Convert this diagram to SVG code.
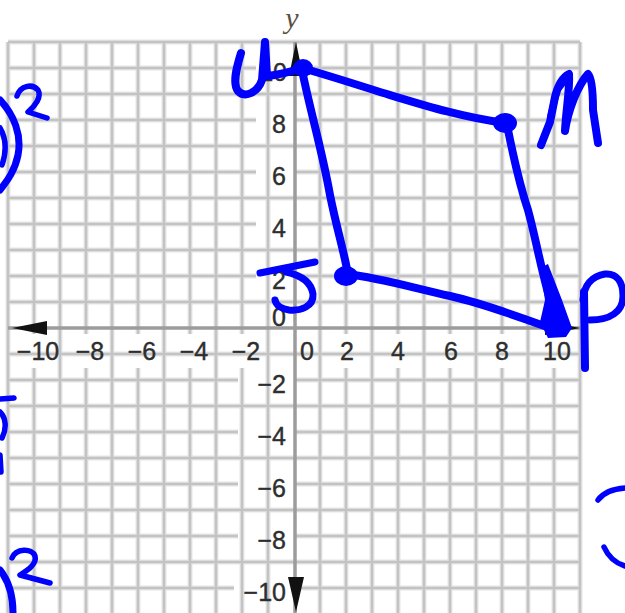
<svg xmlns="http://www.w3.org/2000/svg" width="625" height="613" viewBox="0 0 625 613">
<style>
.halo{fill:none;stroke:#e6e6e6;stroke-width:5}
.grid{fill:none;stroke:#c3c3c3;stroke-width:2.5}
.axis{fill:none;stroke:#9c9c9c;stroke-width:3.5}
.arrow{fill:#111}
.lbl{font-family:"Liberation Sans",Arial,sans-serif;font-size:25px;fill:#2e2e2e;stroke:#2e2e2e;stroke-width:0.4}
.ink{fill:none;stroke:#0000ff;stroke-linecap:round;stroke-linejoin:round}
.edge{stroke-width:8}
.pen{stroke-width:7}
.thin{stroke-width:5.5}
.blob{fill:#0000ff}
</style>
<rect width="625" height="613" fill="#fff"/>
<g id="grid">
<path class="halo" d="M8,42V613M34,42V334M34,368V613M60,42V613M86,42V334M86,368V613M112,42V613M138,42V334M138,368V613M164,42V613M190,42V334M190,368V613M216,42V613M242,42V334M242,368V613M268,42V613M320,42V613M346,42V334M346,368V613M372,42V613M398,42V334M398,368V613M424,42V613M450,42V334M450,368V613M476,42V613M502,42V334M502,368V613M528,42V613M554,42V334M554,368V613M580,42V613
M8,42H580M8,68H256M294,68H580M8,94H580M8,120H256M294,120H580M8,146H580M8,172H256M294,172H580M8,198H580M8,224H256M294,224H580M8,250H580M8,276H256M294,276H580M8,302H580M8,354H580M8,380H238M294,380H580M8,406H580M8,432H238M294,432H580M8,458H580M8,484H238M294,484H580M8,510H580M8,536H238M294,536H580M8,562H580M8,588H234M294,588H580"/>
<path class="grid" d="M8,42V613M34,42V334M34,368V613M60,42V613M86,42V334M86,368V613M112,42V613M138,42V334M138,368V613M164,42V613M190,42V334M190,368V613M216,42V613M242,42V334M242,368V613M268,42V613M320,42V613M346,42V334M346,368V613M372,42V613M398,42V334M398,368V613M424,42V613M450,42V334M450,368V613M476,42V613M502,42V334M502,368V613M528,42V613M554,42V334M554,368V613M580,42V613
M8,42H580M8,68H256M294,68H580M8,94H580M8,120H256M294,120H580M8,146H580M8,172H256M294,172H580M8,198H580M8,224H256M294,224H580M8,250H580M8,276H256M294,276H580M8,302H580M8,354H580M8,380H238M294,380H580M8,406H580M8,432H238M294,432H580M8,458H580M8,484H238M294,484H580M8,510H580M8,536H238M294,536H580M8,562H580M8,588H234M294,588H580"/>
</g>
<g id="axes">
<path class="axis" d="M8,328H580M295,42V613"/>
<polygon class="arrow" points="12,328 47,321 47,335"/>
<polygon class="arrow" points="580,328 545,321 545,335"/>
<polygon class="arrow" points="296,42 289,76 303,76"/>
<polygon class="arrow" points="296,612 288,577 304,577"/>
<text x="292" y="28" text-anchor="middle" style="font-family:'Liberation Serif','Times New Roman',serif;font-style:italic;font-size:30px;fill:#5a5040">y</text>
<g class="lbl" text-anchor="middle">
<text x="38" y="360">−10</text><text x="90" y="360">−8</text><text x="142" y="360">−6</text><text x="194" y="360">−4</text><text x="246" y="360">−2</text><text x="307" y="360">0</text><text x="347" y="360">2</text><text x="398" y="360">4</text><text x="451" y="360">6</text><text x="502" y="360">8</text><text x="557" y="360">10</text>
</g>
<g class="lbl" text-anchor="end">
<text x="287" y="81">10</text><text x="286" y="133">8</text><text x="286" y="185">6</text><text x="286" y="237">4</text><text x="286" y="289">2</text><text x="286" y="326">0</text>
<text x="286" y="393">−2</text><text x="286" y="445">−4</text><text x="286" y="497">−6</text><text x="286" y="549">−8</text><text x="286" y="601">−10</text>
</g>
</g>
<g id="connectors">
<path class="ink edge" d="M302,68C330,76 355,84 380,92C420,104 460,117 505,123"/>
<path class="ink edge" d="M507,125C512,150 518,180 528,210C535,235 540,265 550,300L556,328"/>
<path class="ink edge" d="M347,274C380,278 410,287 450,296C490,305 520,318 556,330"/>
<path class="ink edge" d="M302,70C310,110 322,150 330,195C337,230 345,255 348,275"/>
</g>
<g id="U">
<ellipse class="blob" cx="303" cy="68" rx="10" ry="9"/>
<path class="ink edge" d="M241,53C237,66 232,83 238,91C245,99 258,92 262,80L265,42L267,76C278,75 290,72 302,68"/>
</g>
<g id="M">
<ellipse class="blob" cx="505" cy="123" rx="12" ry="10"/>
<path class="ink edge" d="M541,145L550,122L555,97C558,85 563,77 569,74C570,90 566,110 565,131C568,110 578,85 588,74C592,78 593,95 593,110L598,143"/>
<path class="ink" stroke-width="7" d="M551,115L557,90L565,80"/>
</g>
<g id="J">
<ellipse class="blob" cx="346" cy="276" rx="12" ry="10"/>
<path class="ink pen" d="M260,273L315,262M286,272C300,275 311,281 313,294C314,307 300,311 289,310C281,309 276,305 275,300"/>
</g>
<g id="P">
<path class="blob" d="M540,268L548,264L562,300L572,328L566,337L548,338L540,322L545,300Z"/>
<path class="ink edge" d="M584,292L585,368"/>
<path class="ink pen" d="M583,300C584,285 592,276 605,274C617,273 623,282 623,296C623,312 610,320 590,320"/>
</g>
<g id="marks">
<path class="ink pen" d="M0,100C14,115 22,135 18,155C15,170 8,180 0,190"/>
<path class="ink thin" d="M0,128C6,138 7,150 2,165"/>
<path class="ink thin" d="M17,96C20,86 32,83 38,90C42,97 35,106 28,112L47,118"/>
<path class="ink thin" d="M0,399L14,398M0,412C6,418 7,428 2,438M0,455L1,472"/>
<path class="ink thin" d="M12,558C16,548 32,548 35,556C37,564 28,570 20,575L50,583"/>
<path class="ink pen" d="M0,570C8,580 13,595 13,613"/>
<path class="ink thin" d="M598,500C603,493 612,489 625,488M604,547C608,556 615,563 625,566"/>
</g>
</svg>
